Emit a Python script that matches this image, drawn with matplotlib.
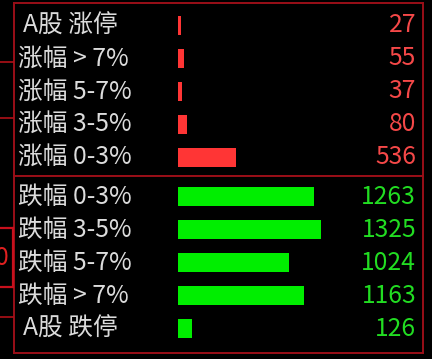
import matplotlib.pyplot as plt
from matplotlib.lines import Line2D

plt.rcParams['font.family'] = ['Noto Sans CJK SC', 'DejaVu Sans']

# 数据
up_labels = ['A股 涨停', '涨幅 > 7%', '涨幅 5-7%', '涨幅 3-5%', '涨幅 0-3%']
up_values = [27, 55, 37, 80, 536]
down_labels = ['跌幅 0-3%', '跌幅 3-5%', '跌幅 5-7%', '跌幅 > 7%', 'A股 跌停']
down_values = [1263, 1325, 1024, 1163, 126]

W, H = 432, 359
frame_color = '#9a0f18'
label_color = '#dcdcdc'
fs = 17.8

fig = plt.figure(figsize=(W / 100, H / 100), dpi=100)
fig.patch.set_facecolor('black')


def px_axes(x0, y0, x1, y1):
    # координаты в пикселях от верхнего левого угла
    return fig.add_axes([x0 / W, 1 - y1 / H, (x1 - x0) / W, (y1 - y0) / H])


def draw_panel(ax, labels, values, bar_color, num_color, ylim):
    ax.set_facecolor('black')
    rows = list(range(len(values)))
    ax.barh(rows, values, height=0.58, color=bar_color, left=0)
    ax.set_xlim(-1523, 2268)
    ax.set_ylim(*ylim)
    ax.set_xticks([])
    ax.set_yticks([])
    for s in ax.spines.values():
        s.set_color(frame_color)
        s.set_linewidth(1.4)
    tr = ax.get_yaxis_transform()
    for i, (lab, v) in enumerate(zip(labels, values)):
        x = 0.023 if lab.startswith('A') else 0.011
        ax.text(x, i, lab, transform=tr, color=label_color, fontsize=fs,
                ha='left', va='center')
        ax.text(0.983, i, str(v), transform=tr, color=num_color, fontsize=fs,
                ha='right', va='center')


ax1 = px_axes(13.5, 3, 423, 176)
draw_panel(ax1, up_labels, up_values, '#ff3535', '#f54848', (4.57, -0.68))
ax2 = px_axes(13.5, 176, 423, 352.5)
draw_panel(ax2, down_labels, down_values, '#00ee00', '#22dd22', (4.72, -0.63))

# обрывки соседней панели слева
def hline(y, x0, x1, c='#b01018', lw=1.2):
    fig.add_artist(Line2D([x0 / W, x1 / W], [1 - y / H, 1 - y / H], color=c, lw=lw))


def vline(x, y0, y1, c='#c8101c', lw=1.6):
    fig.add_artist(Line2D([x / W, x / W], [1 - y0 / H, 1 - y1 / H], color=c, lw=lw))


hline(62, 0, 13)
hline(118, 0, 13)
hline(228, 0, 13, c='#c8101c', lw=1.6)
hline(287, 0, 13, c='#c8101c', lw=1.6)
vline(13, 228, 287)
hline(317, 0, 13)
fig.text(-5 / W, 1 - 258 / H, '0', color='#e02020', fontsize=fs, va='center', ha='left')

fig.savefig('out.png', dpi=100, facecolor=fig.get_facecolor())
